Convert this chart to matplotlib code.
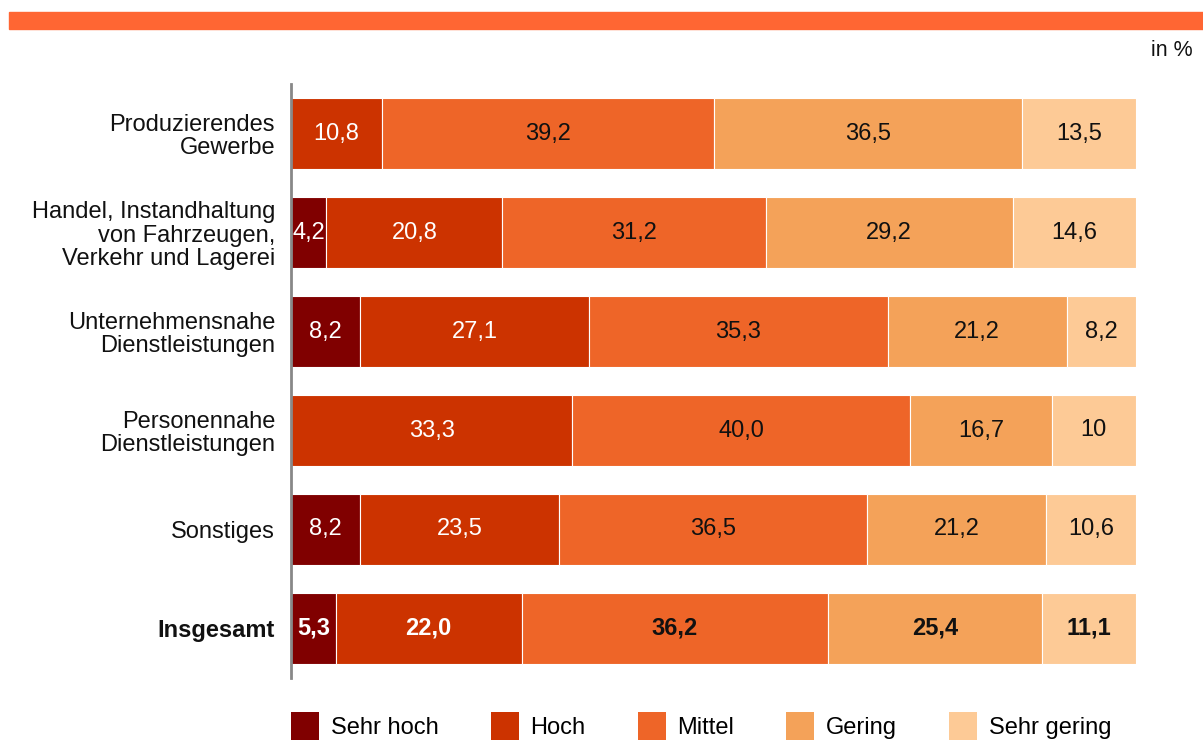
import matplotlib.pyplot as plt
from matplotlib.patches import Rectangle, Patch

plt.rcParams["font.family"] = ["Liberation Sans", "DejaVu Sans"]

# Daten
categories = [
    "Produzierendes\nGewerbe",
    "Handel, Instandhaltung\nvon Fahrzeugen,\nVerkehr und Lagerei",
    "Unternehmensnahe\nDienstleistungen",
    "Personennahe\nDienstleistungen",
    "Sonstiges",
    "Insgesamt",
]
levels = ["Sehr hoch", "Hoch", "Mittel", "Gering", "Sehr gering"]

sehr_hoch = [0, 4.2, 8.2, 0, 8.2, 5.3]
hoch = [10.8, 20.8, 27.1, 33.3, 23.5, 22.0]
mittel = [39.2, 31.2, 35.3, 40.0, 36.5, 36.2]
gering = [36.5, 29.2, 21.2, 16.7, 21.2, 25.4]
sehr_gering = [13.5, 14.6, 8.2, 10, 10.6, 11.1]

labels_sehr_hoch = ["", "4,2", "8,2", "", "8,2", "5,3"]
labels_hoch = ["10,8", "20,8", "27,1", "33,3", "23,5", "22,0"]
labels_mittel = ["39,2", "31,2", "35,3", "40,0", "36,5", "36,2"]
labels_gering = ["36,5", "29,2", "21,2", "16,7", "21,2", "25,4"]
labels_sehr_gering = ["13,5", "14,6", "8,2", "10", "10,6", "11,1"]

series = [sehr_hoch, hoch, mittel, gering, sehr_gering]
series_labels = [labels_sehr_hoch, labels_hoch, labels_mittel,
                 labels_gering, labels_sehr_gering]
colors = ["#800000", "#CC3300", "#EE6528", "#F4A259", "#FDCA96"]
text_colors = ["white", "white", "#111111", "#111111", "#111111"]

fig = plt.figure(figsize=(12.03, 7.42), dpi=100)
ax = fig.add_axes([291 / 1203, 1 - 678 / 742, 845 / 1203, 594 / 742])

# oberer Balken
fig.patches.append(Rectangle((9 / 1203, 1 - 29 / 742), 1, 17 / 742,
                             transform=fig.transFigure, color="#FF6633",
                             zorder=0))
fig.text(1193 / 1203, 1 - 50 / 742, "in %", ha="right", va="center",
         fontsize=15.5, color="#111111")

ypos = list(range(len(categories)))
left = [0] * len(categories)
fs = 17
for vals, labs, col, tcol in zip(series, series_labels, colors, text_colors):
    ax.barh(ypos, vals, left=left, height=0.715, color=col,
            edgecolor="white", linewidth=0.8)
    for i, (v, lab) in enumerate(zip(vals, labs)):
        if v > 0 and lab:
            ax.text(left[i] + v / 2, i, lab, ha="center", va="center",
                    color=tcol, fontsize=fs,
                    fontweight="bold" if i == len(categories) - 1 else "normal")
    left = [a + b for a, b in zip(left, vals)]

ax.set_xlim(0, 100)
ax.set_ylim(len(categories) - 0.5, -0.5)
ax.set_yticks(ypos)
ax.set_yticklabels(categories, fontsize=fs, linespacing=1.08, color="#111111")
ax.get_yticklabels()[-1].set_fontweight("bold")
ax.tick_params(axis="y", length=0, pad=11.5)
ax.set_xticks([])
for s in ["top", "right", "bottom"]:
    ax.spines[s].set_visible(False)
ax.spines["left"].set_color("#888888")
ax.spines["left"].set_linewidth(2)
ax.spines["left"].set_zorder(5)

handles = [Patch(facecolor=c, edgecolor="none") for c in colors]
fig.legend(handles, levels, loc="center left",
           bbox_to_anchor=(291 / 1203, 1 - 726 / 742), ncol=5,
           frameon=False, fontsize=fs, handlelength=1.19, handleheight=1.45,
           handletextpad=0.5, columnspacing=2.2, borderpad=0,
           borderaxespad=0)

plt.savefig("out.png", dpi=100)
